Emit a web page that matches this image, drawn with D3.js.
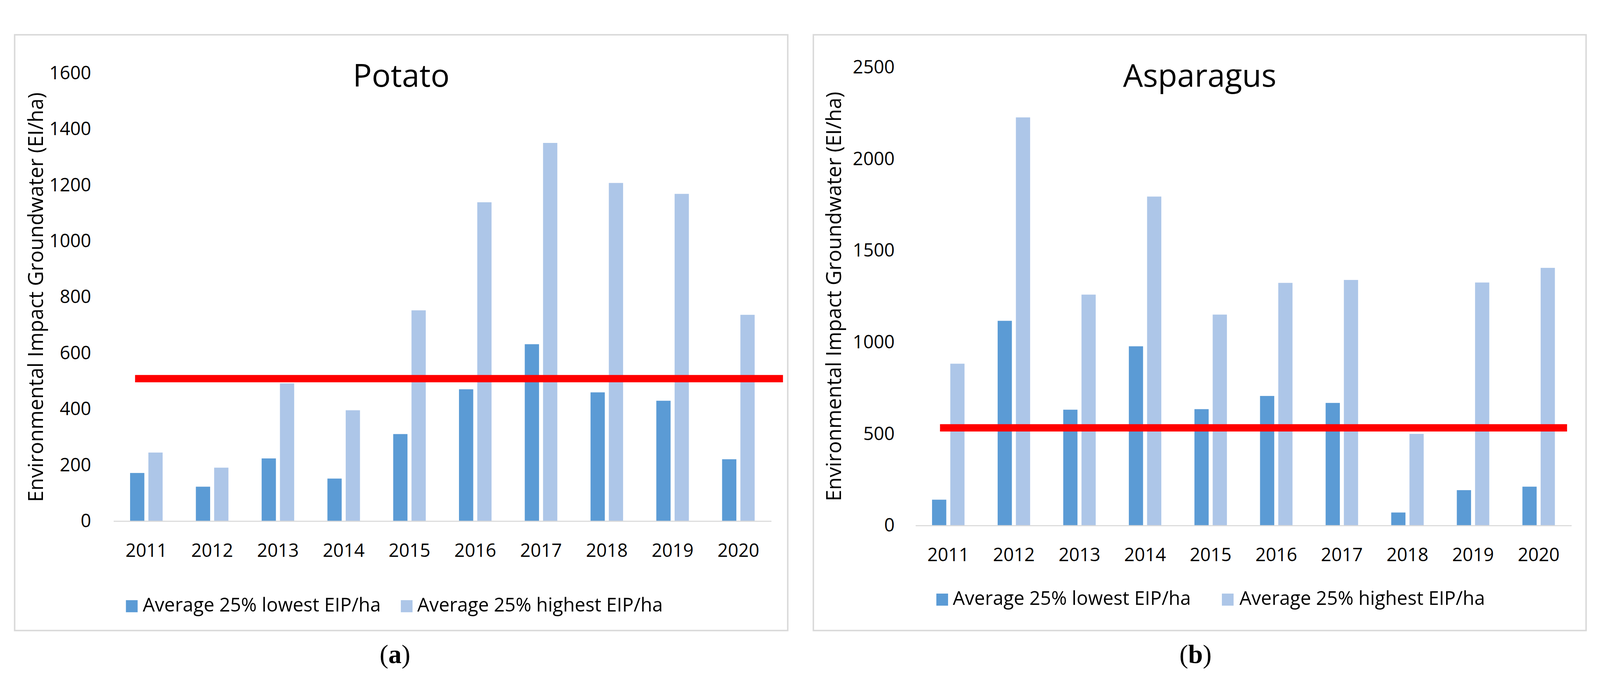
<!DOCTYPE html>
<html>
<head>
<meta charset="utf-8">
<script src="https://cdn.jsdelivr.net/npm/d3@7"></script>
<style>
  html, body { margin: 0; padding: 0; background: #fff; overflow: hidden; }
  svg { display: block; }
  text { font-family: "Open Sans", "Noto Sans", sans-serif; fill: #000; }
</style>
</head>
<body>
<svg id="chart"></svg>
<script>
// values
const years = ['2011', '2012', '2013', '2014', '2015', '2016', '2017', '2018', '2019', '2020'];
const seriesNames = ['Average 25% lowest EIP/ha', 'Average 25% highest EIP/ha'];

const potatoLow = [172, 123, 224, 152, 311, 471, 632, 460, 430, 221];
const potatoHigh = [245, 191, 492, 396, 753, 1139, 1351, 1208, 1169, 737];
const potatoThreshold = 509;
const potatoTicks = [0, 200, 400, 600, 800, 1000, 1200, 1400, 1600];

const asparagusLow = [141, 1117, 632, 978, 635, 707, 669, 71, 193, 212];
const asparagusHigh = [883, 2227, 1260, 1795, 1151, 1324, 1340, 500, 1326, 1406];
const asparagusThreshold = 533;
const asparagusTicks = [0, 500, 1000, 1500, 2000, 2500];

const colors = ['#5b9bd5', '#adc6e8'];

const W = 4371, H = 1790;
const svg = d3.select('#chart')
  .attr('viewBox', `0 0 ${W} ${H}`)
  .attr('width', '100vw')
  .attr('height', '100vh')
  .attr('preserveAspectRatio', 'xMidYMid meet');

function drawPanel(p) {
  const g = svg.append('g');

  g.append('rect')
    .attr('x', p.box[0]).attr('y', p.box[1])
    .attr('width', p.box[2]).attr('height', p.box[3])
    .attr('fill', '#fff')
    .attr('stroke', '#d9d9d9')
    .attr('stroke-width', 4);

  const x0 = d3.scaleBand()
    .domain(years)
    .range([p.plotX0, p.plotX1])
    .paddingInner(0.505)
    .paddingOuter(0.2525);

  const x1 = d3.scaleBand()
    .domain([0, 1])
    .range([0, x0.bandwidth()])
    .paddingInner(0.22);

  const y = d3.scaleLinear()
    .domain([0, p.ticks[p.ticks.length - 1]])
    .range([p.y0, p.yTop]);

  const rows = years.map((yr, i) => ({ year: yr, vals: [p.low[i], p.high[i]] }));

  g.selectAll('g.year')
    .data(rows)
    .join('g')
      .attr('class', 'year')
      .attr('transform', d => `translate(${x0(d.year)},0)`)
    .selectAll('rect')
    .data(d => d.vals.map((v, k) => ({ k: k, v: v })))
    .join('rect')
      .attr('x', d => x1(d.k))
      .attr('width', x1.bandwidth())
      .attr('y', d => y(d.v))
      .attr('height', d => y(0) - y(d.v))
      .attr('fill', d => colors[d.k]);

  // x axis (baseline + year labels)
  const xAxis = g.append('g')
    .attr('transform', `translate(0,${y(0)})`)
    .call(d3.axisBottom(x0).tickSize(0).tickPadding(62));
  xAxis.select('.domain').attr('stroke', '#d9d9d9').attr('stroke-width', 3);
  xAxis.selectAll('text').style('font-size', '50px').attr('fill', '#000');

  // y axis labels only
  const yAxis = g.append('g')
    .attr('transform', `translate(${p.plotX0},0)`)
    .call(d3.axisLeft(y).tickValues(p.ticks).tickFormat(d3.format('d'))
      .tickSize(0).tickPadding(p.yPad));
  yAxis.select('.domain').remove();
  yAxis.selectAll('text').style('font-size', '50px').attr('fill', '#000');

  // threshold line
  g.append('line')
    .attr('x1', p.redX[0]).attr('x2', p.redX[1])
    .attr('y1', y(p.threshold)).attr('y2', y(p.threshold))
    .attr('stroke', '#ff0000')
    .attr('stroke-width', 20);

  g.append('text')
    .attr('x', p.box[0] + p.box[2] / 2)
    .attr('y', 177)
    .attr('text-anchor', 'middle')
    .style('font-size', '86px')
    .text(p.title);

  g.append('text')
    .attr('transform', `translate(${p.yTitleX},${(p.y0 + p.yTop) / 2}) rotate(-90)`)
    .attr('text-anchor', 'middle')
    .style('font-size', '56px')
    .text('Environmental Impact Groundwater (EI/ha)');

  // legend
  const leg = g.selectAll('g.legend')
    .data(seriesNames)
    .join('g')
      .attr('class', 'legend');
  leg.append('rect')
    .attr('x', (d, i) => p.legend[i][0])
    .attr('y', p.legendY - 31)
    .attr('width', 32)
    .attr('height', 33)
    .attr('fill', (d, i) => colors[i]);
  leg.append('text')
    .attr('x', (d, i) => p.legend[i][1])
    .attr('y', p.legendY)
    .style('font-size', '52px')
    .text(d => d);

  // caption
  const cap = g.append('text')
    .attr('x', p.captionX)
    .attr('y', 1752)
    .attr('text-anchor', 'middle')
    .style('font-family', '"Liberation Serif", "DejaVu Serif", serif')
    .style('font-size', '72px');
  cap.append('tspan').text('(');
  cap.append('tspan').style('font-weight', 'bold').text(p.letter);
  cap.append('tspan').text(')');
}

drawPanel({
  title: 'Potato', letter: 'a',
  low: potatoLow, high: potatoHigh, threshold: potatoThreshold, ticks: potatoTicks,
  box: [40, 35, 2112, 1628],
  plotX0: 310, plotX1: 2107, y0: 1364, yTop: 140, yPad: 61,
  redX: [369, 2139], yTitleX: 117,
  legend: [[344, 390], [1095, 1140]], legendY: 1611,
  captionX: 1079
});

drawPanel({
  title: 'Asparagus', letter: 'b',
  low: asparagusLow, high: asparagusHigh, threshold: asparagusThreshold, ticks: asparagusTicks,
  box: [2222, 35, 2111, 1628],
  plotX0: 2501, plotX1: 4293, y0: 1376, yTop: 124, yPad: 57,
  redX: [2568, 4281], yTitleX: 2298,
  legend: [[2558, 2603], [3338, 3386]], legendY: 1593,
  captionX: 3266
});
</script>
</body>
</html>
